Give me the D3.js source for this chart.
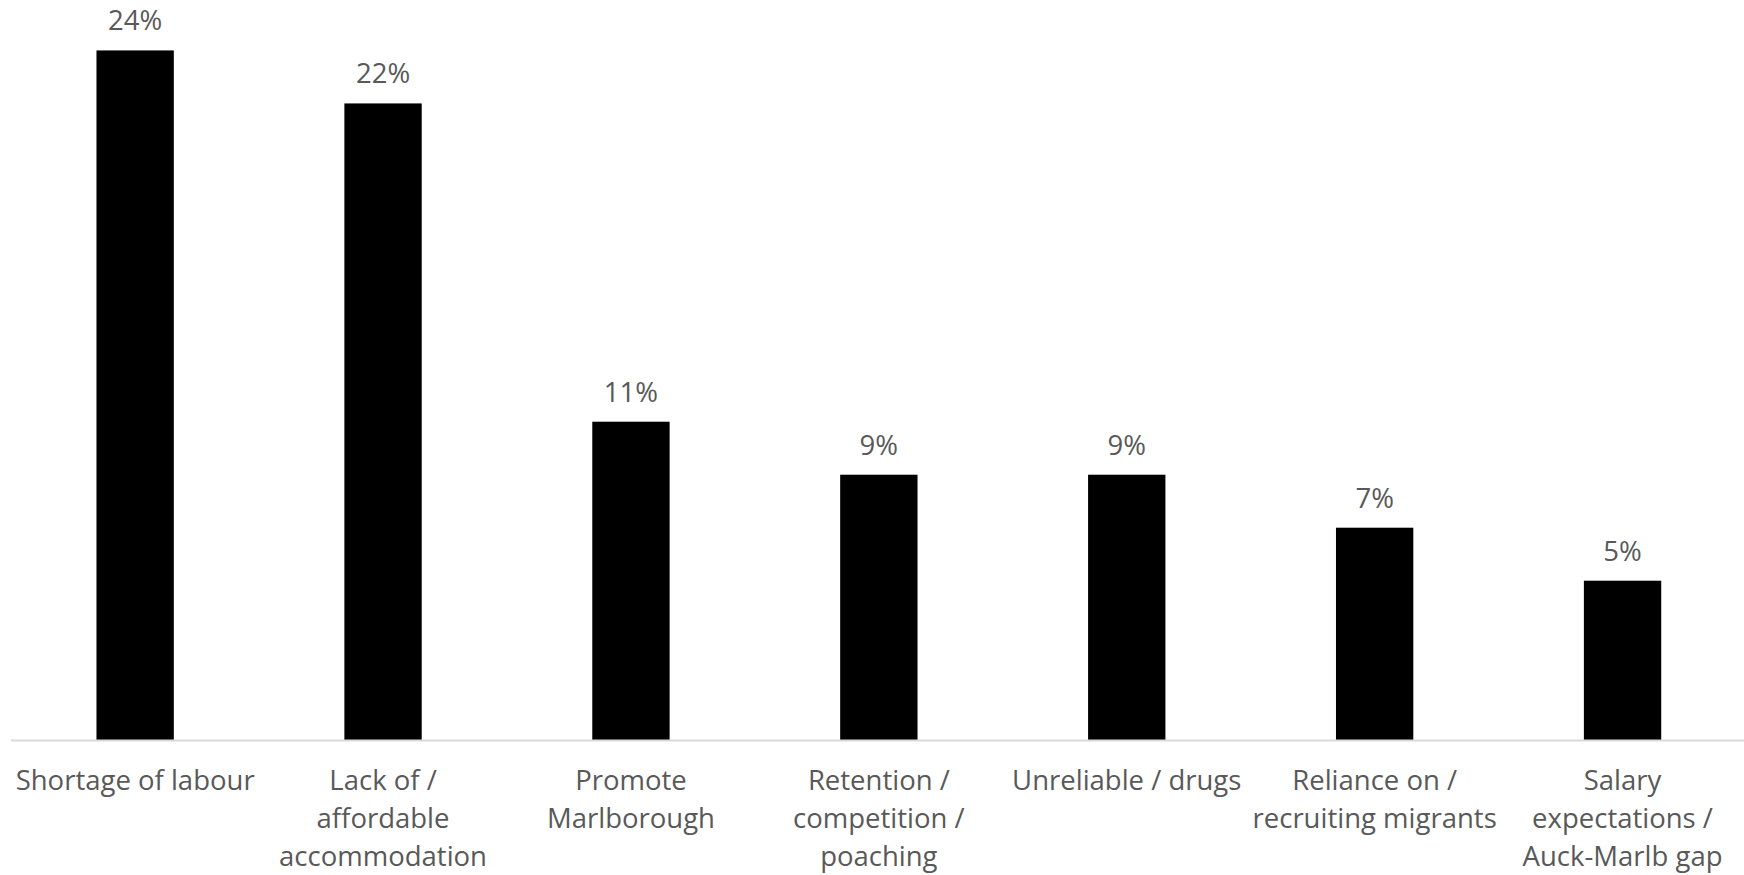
<!DOCTYPE html>
<html>
<head>
<meta charset="utf-8">
<script src="https://cdn.jsdelivr.net/npm/d3@7"></script>
<style>
  html, body { margin: 0; padding: 0; background: #ffffff; }
  svg { display: block; }
  text { font-family: "Open Sans", "Noto Sans", sans-serif; fill: #595959; }
</style>
</head>
<body>
<svg id="chart" width="1744" height="875"></svg>
<script>
const categories = [
  ["Shortage of labour"],
  ["Lack of /", "affordable", "accommodation"],
  ["Promote", "Marlborough"],
  ["Retention /", "competition /", "poaching"],
  ["Unreliable / drugs"],
  ["Reliance on /", "recruiting migrants"],
  ["Salary", "expectations /", "Auck-Marlb gap"]
];
const values = [24.07, 22.22, 11.11, 9.26, 9.26, 7.41, 5.56];
const valueLabels = ["24%", "22%", "11%", "9%", "9%", "7%", "5%"];

const W = 1744, H = 875;
const axisY = 740;
const svg = d3.select("#chart");

const x = d3.scaleBand()
  .domain(d3.range(categories.length))
  .range([11.2, 1746.5])
  .paddingInner(0.688)
  .paddingOuter(0.344);

const y = d3.scaleLinear()
  .domain([0, 25.83])
  .range([axisY, 0]);

// bars
svg.append("g").selectAll("rect")
  .data(values)
  .join("rect")
  .attr("x", (d, i) => x(i))
  .attr("y", d => y(d))
  .attr("width", x.bandwidth())
  .attr("height", d => y(0) - y(d))
  .attr("fill", "#000000");

// axis line
svg.append("line")
  .attr("x1", 11).attr("x2", W)
  .attr("y1", axisY + 0.5).attr("y2", axisY + 0.5)
  .attr("stroke", "#d9d9d9")
  .attr("stroke-width", 2);

// value labels
svg.append("g").selectAll("text")
  .data(values)
  .join("text")
  .attr("x", (d, i) => x(i) + x.bandwidth() / 2)
  .attr("y", d => y(d) - 20)
  .attr("text-anchor", "middle")
  .attr("font-size", "27.5px")
  .text((d, i) => valueLabels[i]);

// category labels
const catG = svg.append("g").selectAll("text")
  .data(categories)
  .join("text")
  .attr("x", (d, i) => x(i) + x.bandwidth() / 2)
  .attr("y", 790)
  .attr("text-anchor", "middle")
  .attr("font-size", "27.5px");
catG.selectAll("tspan")
  .data(d => d)
  .join("tspan")
  .attr("x", function() { return d3.select(this.parentNode).attr("x"); })
  .attr("dy", (d, j) => j === 0 ? 0 : 38)
  .text(d => d);
</script>
</body>
</html>
